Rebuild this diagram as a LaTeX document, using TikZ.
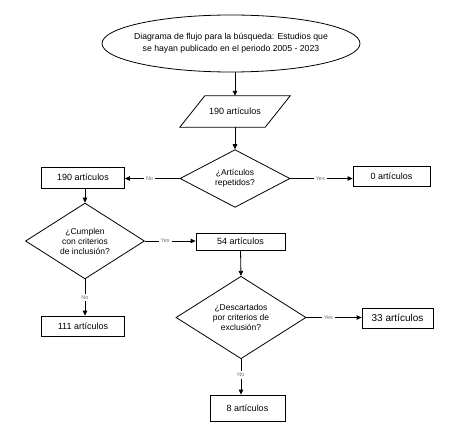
\documentclass[tikz,border=0pt]{standalone}
\usepackage{fontspec}
\setmainfont{Liberation Sans}
\usetikzlibrary{shapes.geometric,arrows.meta,calc}
\begin{document}
\begin{tikzpicture}[x=1pt,y=-1pt,
  every node/.style={font=\fontsize{8.5}{10}\selectfont, inner sep=0pt, align=center, text=black},
  box/.style={draw, line width=0.8pt, rectangle},
  dia/.style={draw, line width=0.8pt, diamond},
  conn/.style={draw, line width=0.8pt, -{Triangle[length=5pt,width=4.5pt]}},
  lbl/.style={fill=white, text=black!55, font=\fontsize{5.5}{6}\selectfont, inner sep=2pt}
]
\useasboundingbox (0,0) rectangle (462,430);
% nodes
\node[draw, line width=0.8pt, ellipse, minimum width=258pt, minimum height=57pt] (ell) at (231,43.5) {};
\node[font=\fontsize{8.7}{12}\selectfont] (elltext) at (ell.center) 
  {Diagrama de flujo para la búsqueda: Estudios que\\se hayan publicado en el periodo 2005 - 2023};
\node[minimum width=85pt, minimum height=31pt, font=\fontsize{9}{11}\selectfont] (par) at (235,111.5) {190 artículos};
\draw[line width=0.8pt] ([xshift=12.5pt]par.north west) -- ([xshift=12.5pt]par.north east)
  -- ([xshift=-12.5pt]par.south east) -- ([xshift=-12.5pt]par.south west) -- cycle;
\node[dia, minimum width=110pt, minimum height=47pt] (d1) at (235,178.5) {¿Artículos\\repetidos?};
\node[box, minimum width=83pt, minimum height=21pt, font=\fontsize{9}{11}\selectfont] (b190) at (83,177.5) {190 artículos};
\node[box, minimum width=77pt, minimum height=20pt, font=\fontsize{9}{11}\selectfont] (b0) at (391.5,176) {0 artículos};
\node[dia, minimum width=119pt, minimum height=64pt] (d2) at (85,241) {¿Cumplen\\con criterios\\de inclusión?};
\node[box, minimum width=83pt, minimum height=20pt, font=\fontsize{9}{11}\selectfont] (b111) at (83,326) {111 artículos};
\node[box, minimum width=89pt, minimum height=17pt, font=\fontsize{9}{11}\selectfont] (b54) at (240.5,241.5) {54 artículos};
\node[dia, minimum width=130pt, minimum height=71pt] (d3) at (241,317.5) {¿Descartados\\por criterios de\\exclusión?};
\node[box, minimum width=71pt, minimum height=20pt, font=\fontsize{10}{12}\selectfont] (b33) at (397.5,318) {33 artículos};
\node[box, minimum width=75pt, minimum height=26pt, font=\fontsize{9}{11}\selectfont] (b8) at (247.5,408) {8 artículos};
% connectors
\draw[conn] (par.north |- ell.south) -- (par.north);
\draw[conn] (par.south) -- (d1.north);
\draw[conn] (d1.west) -- node[lbl, pos=0.55] {No} (b190.east |- d1.west);
\draw[conn] (d1.east) -- node[lbl, pos=0.48] {Yes} (b0.west |- d1.east);
\draw[conn] (b190.south -| d2.north) -- (d2.north);
\draw[conn] (d2.south) -- node[lbl, pos=0.5] {No} (d2.south |- b111.north);
\draw[conn] (d2.east) -- node[lbl, pos=0.4] {Yes} (b54.west |- d2.east);
\draw[conn] (b54.south) -- (d3.north);
\draw[conn] (d3.east) -- node[lbl, pos=0.4] {Yes} (b33.west |- d3.east);
\draw[conn] (d3.south) -- node[lbl, pos=0.45] {No} (d3.south |- b8.north);
\end{tikzpicture}
\end{document}
